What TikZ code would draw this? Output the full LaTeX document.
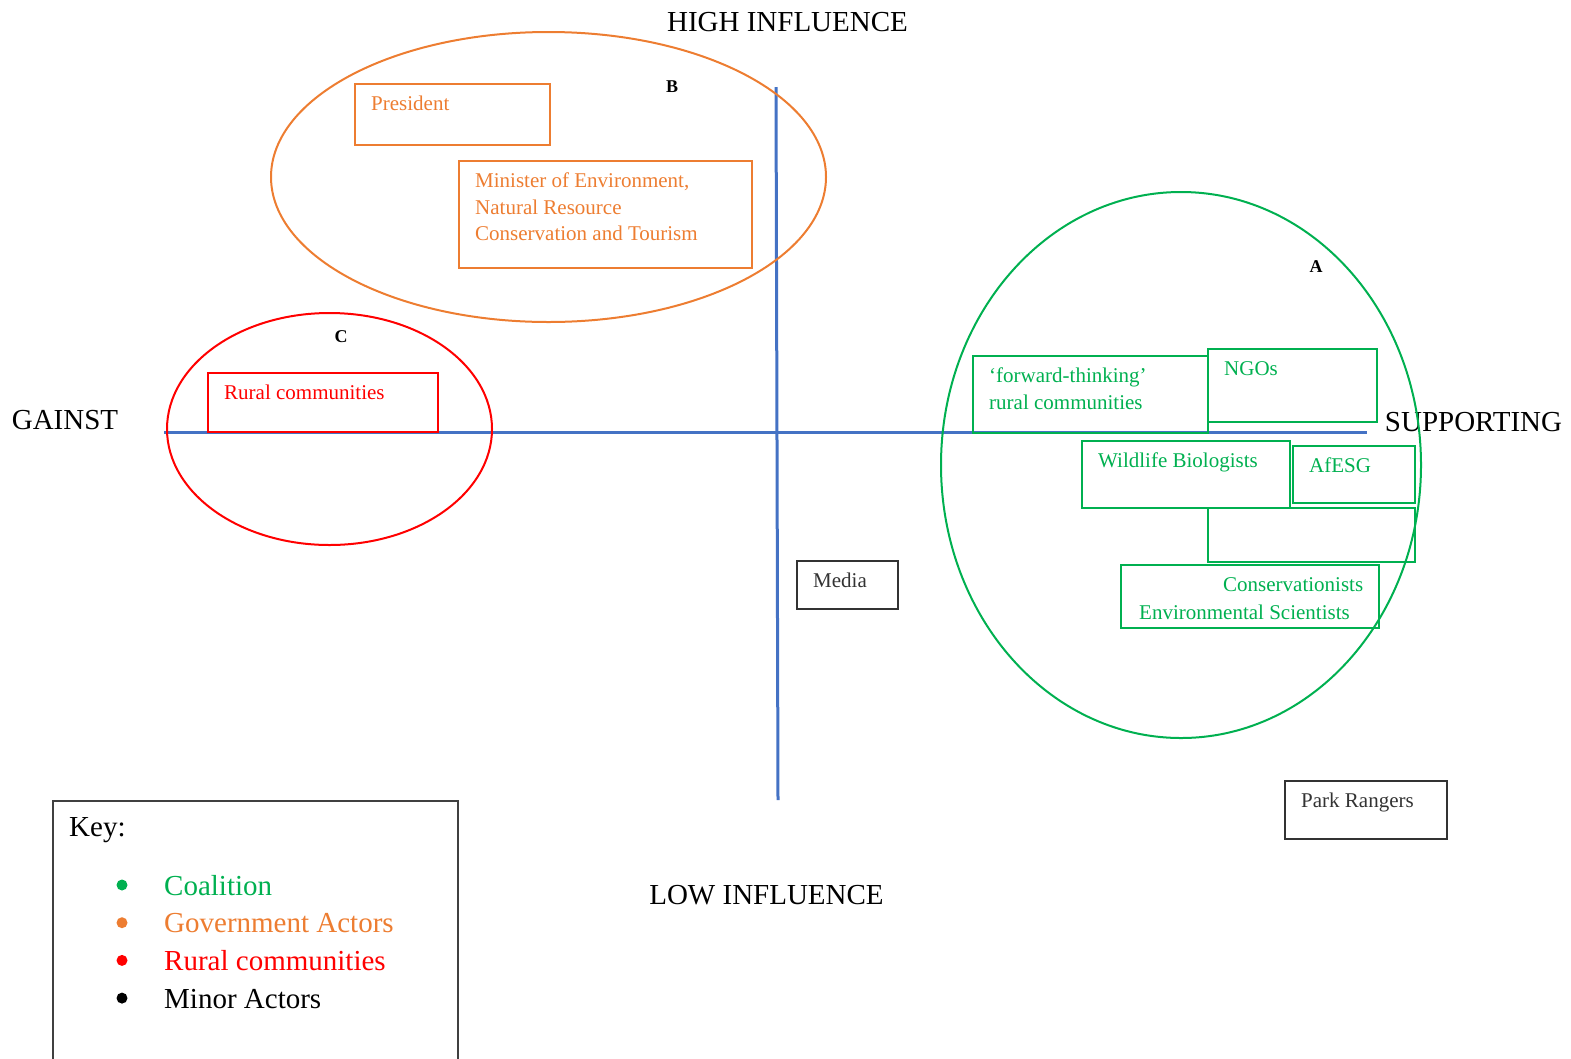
\documentclass[tikz,border=0pt]{standalone}
\usepackage{fontspec}
\setmainfont{Liberation Serif}
\usetikzlibrary{calc}
\definecolor{govorange}{RGB}{237,125,49}
\definecolor{coalgreen}{RGB}{0,176,80}
\definecolor{ruralred}{RGB}{255,0,0}
\definecolor{axisblue}{RGB}{68,114,196}
\tikzset{
  axis line/.style={draw=axisblue, line width=3pt},
  group ring/.style={line width=2pt},
  box line/.style={line width=1.2pt},
  actor text/.style={anchor=north west, inner sep=0pt, align=left,
    font=\fontsize{21}{26.5}\selectfont},
  big text/.style={inner sep=0pt, font=\fontsize{29}{34}\selectfont},
  group mark/.style={inner sep=0pt, font=\fontsize{18}{20}\selectfont\bfseries},
}
\newcommand{\ACTOR}[5]{
  \draw[#1, box line] #2 rectangle #3;
  \node[#1, actor text] (#4) at ($ #2 + (16,8) $) {\strut #5};
}

\begin{document}
\begin{tikzpicture}[x=1pt,y=-1pt]
  \useasboundingbox (0,0) rectangle (1571,1058);

  % axes
  \draw[axis line] (164,432) -- (1367,432);
  \draw[axis line] (776,87) -- (778,800);
  \node[big text] (high) at (787.5,22) {HIGH INFLUENCE};
  \node[big text] (low) at (766.5,895) {LOW INFLUENCE};
  \node[big text] (against) at (65,420) {GAINST};
  \node[big text] (support) at (1473.5,422) {SUPPORTING};

  % group B
  \draw[govorange, group ring] (548.5,177) ellipse [x radius=277.5, y radius=145];
  \node[group mark] (markB) at (672,87) {B};
  \ACTOR{govorange}{(355,84)}{(550,145)}{president}{President}
  \ACTOR{govorange}{(459,161)}{(752,268)}{minister}{Minister of Environment,\\Natural Resource\\Conservation and Tourism}

  % group C
  \draw[ruralred, group ring] (329.5,429) ellipse [x radius=162.5, y radius=116];
  \node[group mark] (markC) at (341,337) {C};
  \ACTOR{ruralred}{(208,373)}{(438,432)}{rural}{Rural communities}

  % group A
  \draw[coalgreen, group ring] (1181,465) ellipse [x radius=240, y radius=273];
  \node[group mark] (markA) at (1316,267) {A};
  \ACTOR{coalgreen}{(973,356)}{(1208,433)}{forward}{`forward-thinking'\\rural communities}
  \ACTOR{coalgreen}{(1208,349)}{(1377,422)}{ngos}{NGOs}
  \ACTOR{coalgreen}{(1082,441)}{(1290,508)}{biologists}{Wildlife Biologists}
  \ACTOR{coalgreen}{(1293,446)}{(1415,503)}{afesg}{AfESG}
  \draw[coalgreen, box line] (1208,508) rectangle (1415,562);
  \ACTOR{coalgreen}{(1121,565)}{(1379,628)}{scientists}{\hspace*{86pt}Conservationists\\[1.5pt]\hspace*{2pt}Environmental Scientists}

  % minor actors
  \ACTOR{black!80}{(797,561)}{(898,609)}{media}{Media}
  \ACTOR{black!80}{(1285,781)}{(1447,839)}{rangers}{Park Rangers}

  % key
  \draw[black!75, box line] (53,1070) -- (53,801) -- (458,801) -- (458,1070);
  \node[big text, anchor=base west] (key) at (69,836) {Key:};
  \foreach \col/\txt [count=\i] in {coalgreen/Coalition, govorange/Government Actors,
      ruralred/Rural communities, black/Minor Actors} {
    \fill[\col] (122,847.3+37.7*\i) circle (5.5);
    \node[big text, anchor=base west, text=\col] (key\i) at (164,857.3+37.7*\i) {\txt};
  }
\end{tikzpicture}
\end{document}
